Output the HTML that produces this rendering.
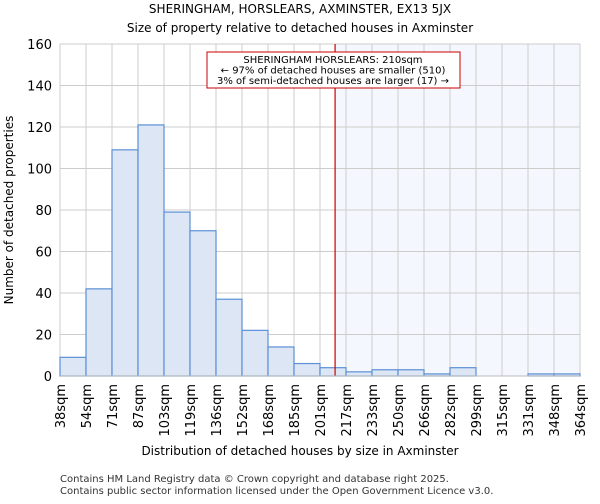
<!DOCTYPE html>
<html><head><meta charset="utf-8"><style>
body{margin:0;background:#fff;font-family:"DejaVu Sans","Liberation Sans",sans-serif;}
</style></head><body>
<svg width="600" height="500" xmlns="http://www.w3.org/2000/svg" font-family="DejaVu Sans, Liberation Sans, sans-serif">
<text x="300" y="13" text-anchor="middle" font-size="12">SHERINGHAM, HORSLEARS, AXMINSTER, EX13 5JX</text>
<text x="300" y="32" text-anchor="middle" font-size="12">Size of property relative to detached houses in Axminster</text>
<g id="plot"></g>
<text x="300" y="455" text-anchor="middle" font-size="12">Distribution of detached houses by size in Axminster</text>
<text transform="translate(13,210) rotate(-90)" text-anchor="middle" font-size="12">Number of detached properties</text>
<text x="60" y="482" font-size="10" fill="#333">Contains HM Land Registry data © Crown copyright and database right 2025.</text>
<text x="60" y="494" font-size="10" fill="#333">Contains public sector information licensed under the Open Government Licence v3.0.</text>
</svg>
<script>
const categories=["38sqm","54sqm","71sqm","87sqm","103sqm","119sqm","136sqm","152sqm","168sqm","185sqm","201sqm","217sqm","233sqm","250sqm","266sqm","282sqm","299sqm","315sqm","331sqm","348sqm","364sqm"];
const counts=[9,42,109,121,79,70,37,22,14,6,4,2,3,3,1,4,0,0,1,1];
const yTicks=[0,20,40,60,80,100,120,140,160];
const markerBin=10.58;
const NS="http://www.w3.org/2000/svg";
const g=document.getElementById('plot');
const X0=60,X1=580,Y0=376,Y1=44,YMAX=160;
const bw=(X1-X0)/counts.length;
const x=i=>X0+i*bw;
const y=v=>Y0-(v/YMAX)*(Y0-Y1);
function mk(t,a){const e=document.createElementNS(NS,t);for(const k in a)e.setAttribute(k,a[k]);g.appendChild(e);return e;}
let e;
e=mk('rect',{x:x(markerBin),y:Y1,width:X1-x(markerBin),height:Y0-Y1,fill:'#f4f7fd'});


yTicks.forEach(t=>{
 e=mk('line',{x1:X0,x2:X1,y1:y(t),y2:y(t),stroke:'#ccc','stroke-width':1});
 
 
 e=mk('text',{x:X0-8,y:y(t)+5,'text-anchor':'end','font-size':13});
 e.textContent=t;
 
 
});
categories.forEach((c,i)=>{
 e=mk('line',{x1:x(i),x2:x(i),y1:Y1,y2:Y0,stroke:'#ccc','stroke-width':1});
 
 
 e=mk('text',{transform:`translate(${x(i)+5},${Y0+8}) rotate(-90)`,'text-anchor':'end','font-size':13});
 e.textContent=c;
 
 
});
counts.forEach((v,i)=>{
 if(v<=0)return;
 e=mk('rect',{x:x(i),y:y(v),width:bw,height:Y0-y(v),fill:'#dce6f4',stroke:'#5b8fd6','stroke-width':1.2});
 
 
});
e=mk('line',{x1:x(markerBin),x2:x(markerBin),y1:Y1,y2:Y0,stroke:'#c00','stroke-width':1.2});


e=mk('line',{x1:X0,x2:X1,y1:Y0,y2:Y0,stroke:'#bbb','stroke-width':1});


e=mk('rect',{x:207,y:52,width:253,height:36,fill:'#fff',stroke:'#c00','stroke-width':1});


["SHERINGHAM HORSLEARS: 210sqm","← 97% of detached houses are smaller (510)","3% of semi-detached houses are larger (17) →"].forEach((s,k)=>{
 e=mk('text',{x:333,y:63+k*10.5,'text-anchor':'middle','font-size':10});
 e.textContent=s;
 
 
});
</script>
</body></html>
